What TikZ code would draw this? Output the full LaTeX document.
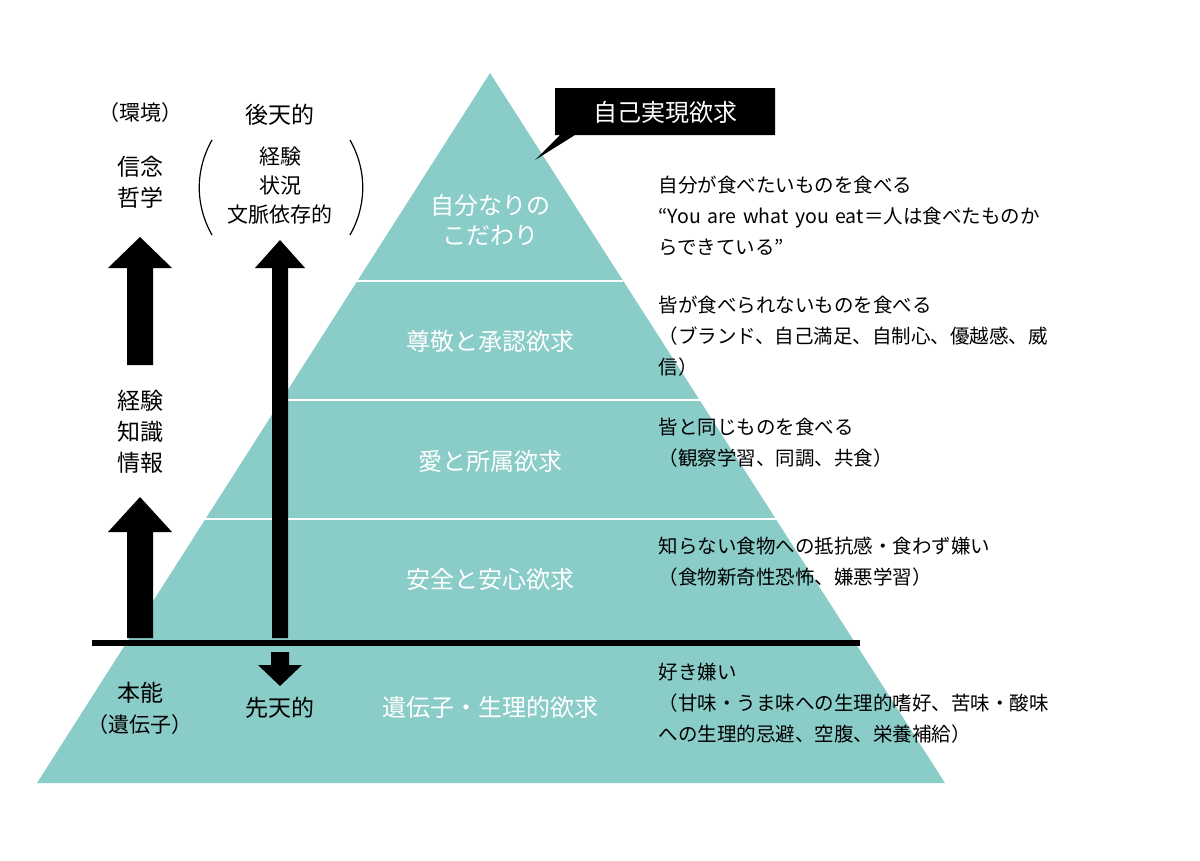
\documentclass[tikz,border=0pt]{standalone}
\usepackage{fontspec}
\setmainfont{Noto Sans CJK JP}
\begin{document}
\begin{tikzpicture}[x=1pt,y=-1pt,
  lay/.style={text=white,font=\fontsize{24}{30}\selectfont,align=center},
  rt/.style={anchor=north west,font=\fontsize{19.5}{31}\selectfont,align=left,text width=470pt},
  lt/.style={font=\fontsize{23}{31}\selectfont,align=center},
  arr/.style={fill=black}]
\useasboundingbox (0,0) rectangle (1200,860);
\definecolor{teal}{HTML}{8ACCC8}
\fill[teal] (490,73) coordinate(apex) -- (945,783) -- (37,783) -- cycle;
\foreach \y in {281,400,519}{
  \pgfmathsetmacro{\dx}{(\y-73)/710*453}
  \pgfmathsetmacro{\dxr}{(\y-73)/710*455}
  \draw[white,line width=2pt] (490-\dx,\y) -- (490+\dxr,\y);}
\draw[line width=6pt] (92,643) -- (860,643);
% layer labels
\node[lay] (l1) at (490,220) {自分なりの\\こだわり};
\node[lay] (l2) at (490,341) {尊敬と承認欲求};
\node[lay] (l3) at (490,461) {愛と所属欲求};
\node[lay] (l4) at (490,579) {安全と安心欲求};
\node[lay] (l5) at (490,707) {遺伝子・生理的欲求};
% callout
\fill (555,88) -- (775,88) -- (775,135) -- (575,135) -- (535,160) -- (560,135) -- (555,135) -- cycle;
\node[text=white,font=\fontsize{24}{30}\selectfont] (c) at (665,112) {自己実現欲求};
% right texts
\node[rt] (r1) at (655,172) {自分が食べたいものを食べる\\“You are what you eat＝人は食べたものか\\らできている”};
\node[rt] (r2) at (655,292) {皆が食べられないものを食べる\\（ブランド、自己満足、自制心、優越感、威\\信）};
\node[rt] (r3) at (655,415) {皆と同じものを食べる\\（観察学習、同調、共食）};
\node[rt] (r4) at (655,533) {知らない食物への抵抗感・食わず嫌い\\（食物新奇性恐怖、嫌悪学習）};
\node[rt] (r5) at (655,660) {好き嫌い\\（甘味・うま味への生理的嗜好、苦味・酸味\\への生理的忌避、空腹、栄養補給）};
% left column
\node[lt,font=\fontsize{21}{28}\selectfont] (env) at (140,113) {（環境）};
\node[lt] (bel) at (140,182) {信念\\哲学};
\node[lt] (exp) at (140,432) {経験\\知識\\情報};
\node[lt] (ins) at (140,708) {本能\\{\fontsize{21}{28}\selectfont （遺伝子）}};
\fill[arr] (127,638) -- (153,638) -- (153,532) -- (172,532) -- (140,497) -- (108,532) -- (127,532) -- cycle;
\fill[arr] (127,365) -- (153,365) -- (153,268) -- (172,268) -- (140,237) -- (108,268) -- (127,268) -- cycle;
% middle column
\node[lt] (ko) at (280,115) {後天的};
\node[lt,font=\fontsize{21}{29}\selectfont] (ke) at (280,186) {経験\\状況\\文脈依存的};
\node[lt] (se) at (280,708) {先天的};
\draw[line width=1.2pt] (212,140) .. controls (195,170) and (195,205) .. (212,235);
\draw[line width=1.2pt] (350,140) .. controls (367,170) and (367,205) .. (350,235);
\fill[arr] (272,638) -- (288,638) -- (288,268) -- (305,268) -- (280,240) -- (255,268) -- (272,268) -- cycle;
\fill[arr] (271,652) -- (289,652) -- (289,665) -- (302,665) -- (280,686) -- (258,665) -- (271,665) -- cycle;
\end{tikzpicture}
\end{document}
